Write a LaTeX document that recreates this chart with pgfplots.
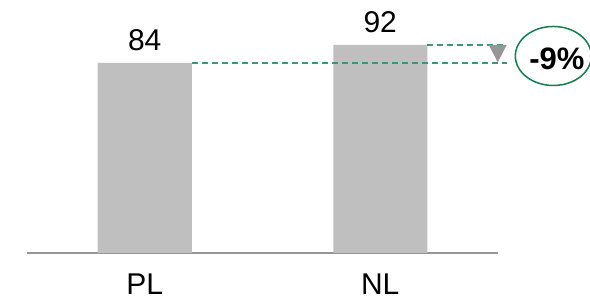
\documentclass[border=0pt]{standalone}
\usepackage{pgfplots}
\pgfplotsset{compat=1.18}
\usepackage{fontspec}
\setmainfont{Liberation Sans}
\definecolor{barg}{RGB}{191,191,191}
\definecolor{dashg}{RGB}{60,150,115}
\definecolor{ellg}{RGB}{20,125,80}
\definecolor{axg}{RGB}{150,150,150}
\definecolor{trig}{RGB}{150,150,150}
\begin{document}
\begin{tikzpicture}[x=1pt,y=1pt]
\useasboundingbox (0,0) rectangle (590,302);
\begin{axis}[
  at={(27pt,49pt)}, anchor=south west,
  scale only axis, width=471pt, height=226.2pt,
  xmin=-0.5, xmax=1.5, ymin=0, ymax=100,
  axis x line=bottom, axis y line=none,
  x axis line style={draw=axg, line width=1.5pt, -},
  xtick={0,1}, xticklabels={PL,NL}, major tick length=0pt,
  xtick style={draw=none},
  xticklabel style={anchor=base, yshift=-42pt, font=\fontsize{30}{36}\selectfont},
  ybar, bar width=94pt,
  clip=false,
  /pgf/number format/assume math mode=true,
  nodes near coords,
  every node near coord/.append style={anchor=base, yshift=12pt, inner sep=0pt, font=\fontsize{30}{36}\selectfont, text=black},
]
\addplot[fill=barg, draw=none] coordinates {(0,84) (1,92)};
\end{axis}
\begin{axis}[
  at={(27pt,49pt)}, anchor=south west,
  scale only axis, width=471pt, height=226.2pt,
  xmin=-0.5, xmax=1.5, ymin=0, ymax=100,
  hide axis, clip=false,
]
\addplot[dashg, line width=1.3pt, dash pattern=on 6pt off 4pt] coordinates {(0.2,84) (1.537,84)};
\addplot[dashg, line width=1.3pt, dash pattern=on 6pt off 4pt] coordinates {(1.2,92) (1.537,92)};
\addplot[fill=trig, draw=none] coordinates {(1.461,92) (1.537,92) (1.499,84.3)} -- cycle;
\draw[ellg, line width=1.5pt] (axis cs:1.735,87.1) ellipse [x radius=38pt, y radius=29.5pt];
\node[font=\fontsize{31}{36}\selectfont\bfseries, anchor=base] at (axis cs:1.75,81.0) {-9\%};
\end{axis}
\end{tikzpicture}
\end{document}
